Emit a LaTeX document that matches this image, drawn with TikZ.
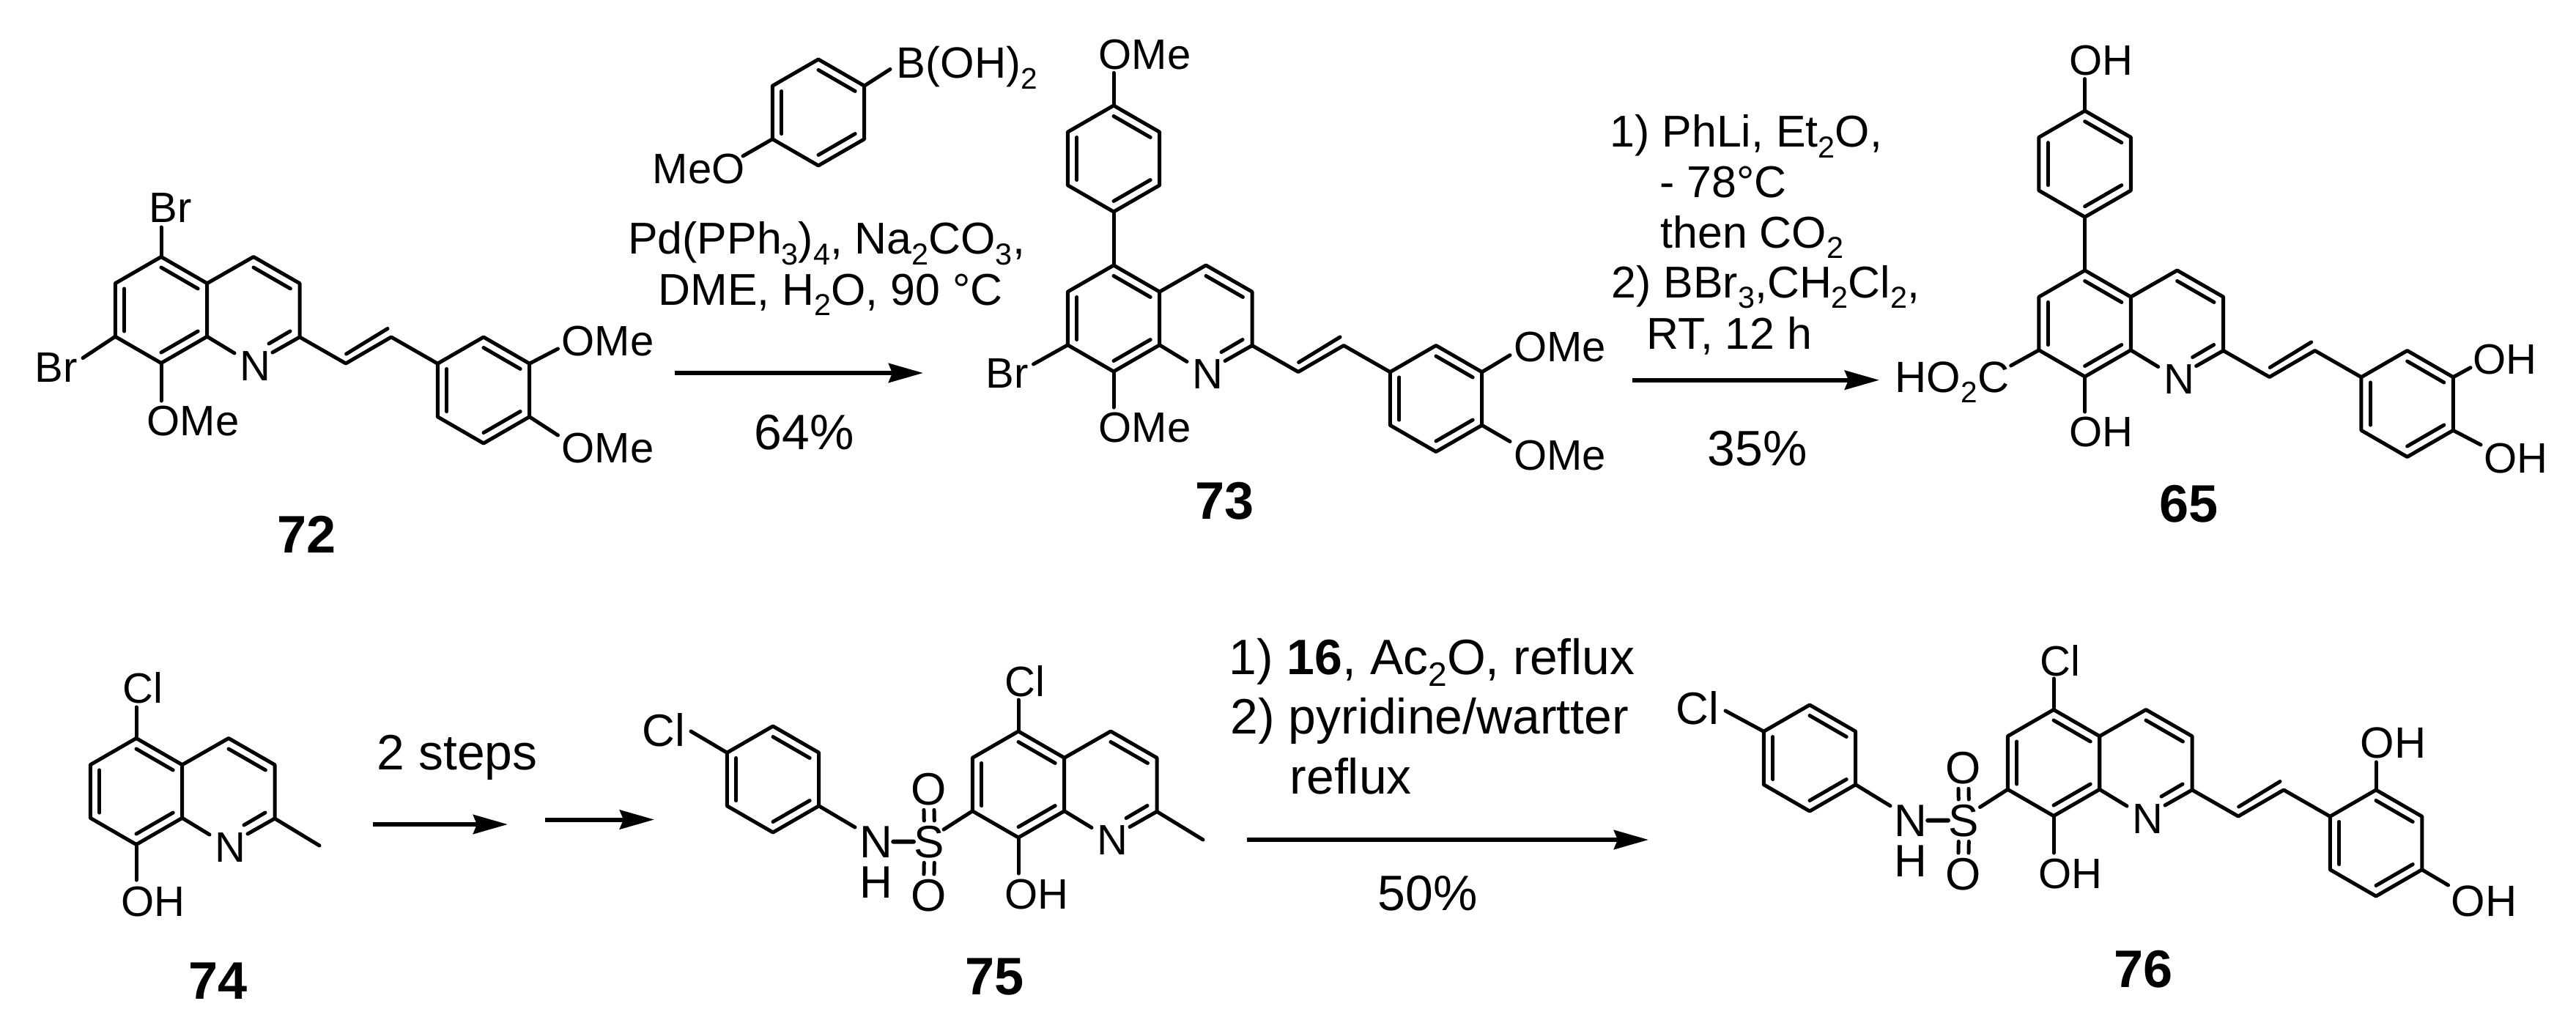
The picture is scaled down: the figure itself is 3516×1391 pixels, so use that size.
\documentclass[tikz,border=0pt]{standalone}
\usepackage{fontspec}
\setmainfont{Liberation Sans}
\usetikzlibrary{calc,arrows.meta}
\tikzset{
	bond/.style={line width=0.05cm, line cap=round, line join=round},
	atom/.style={anchor=base west, inner sep=0pt, font=\fontsize{16.5}{20}\selectfont},
	atombig/.style={font=\fontsize{17.64}{20}\selectfont},
	atommid/.style={font=\fontsize{17}{20}\selectfont},
	reagent/.style={anchor=base west, inner sep=0pt, font=\fontsize{17.3}{20}\selectfont},
	reagentbig/.style={anchor=base west, inner sep=0pt, font=\fontsize{19.3}{22}\selectfont},
	cpd/.style={anchor=base west, inner sep=0pt, font=\fontsize{20.5}{24}\selectfont\bfseries},
	rxn/.style={line width=0.06cm, -{Stealth[length=0.47cm, width=0.26cm, inset=0.05cm]}}
}
\newcommand{\lowidx}[1]{\raisebox{-.24em}{\scalebox{.68}{#1}}}
\newcommand{\dbl}[3]{\draw[bond] ($(#3)!.8!(#1)$) -- ($(#3)!.8!(#2)$);}
\newcommand{\hexring}[3]{
	\begin{scope}[shift={(#2,#3)}]
		\coordinate (#1) at (0,0);
		\coordinate (#1t) at (0,-72.5);
		\coordinate (#1ur) at (62.7,-36.3);
		\coordinate (#1lr) at (62.7,36.3);
		\coordinate (#1b) at (0,72.5);
		\coordinate (#1ll) at (-62.7,36.3);
		\coordinate (#1ul) at (-62.7,-36.3);
		\draw[bond] (#1t) -- (#1ur) -- (#1lr) -- (#1b) -- (#1ll) -- (#1ul) -- cycle;
		\dbl{#1t}{#1ur}{#1}
		\dbl{#1lr}{#1b}{#1}
		\dbl{#1ll}{#1ul}{#1}
	\end{scope}
}
\newcommand{\quinoline}[3]{
	\hexring{#1}{#2}{#3}
	\begin{scope}[shift={(#2,#3)}]
		\coordinate (#1py) at (126,0);
		\coordinate (#1c4) at (126,-72.5);
		\coordinate (#1c3) at (189,-36.3);
		\coordinate (#1c2) at (189,37);
		\coordinate (#1ne) at (100,59);
		\coordinate (#1nf) at (152,58);
		\coordinate (#1ni) at (176,29);
		\coordinate (#1nj) at (147,46);
		\node[atom] (#1N) at (107,96) {N};
		\draw[bond] (#1ur) -- (#1c4) -- (#1c3) -- (#1c2) -- (#1nf);
		\draw[bond] (#1lr) -- (#1ne);
		\draw[bond] (#1ni) -- (#1nj);
		\dbl{#1c4}{#1c3}{#1py}
	\end{scope}
}
\newcommand{\styryl}[3]{
	\begin{scope}[shift={(#2,#3)}]
		\coordinate (#1va) at (252,73);
		\coordinate (#1vb) at (314,37);
		\coordinate (#1vc) at (252.6,60);
		\coordinate (#1vd) at (309,25.5);
		\hexring{#1p}{440}{109.5}
		\draw[bond] (#1c2) -- (#1va) -- (#1vb) -- (#1pul);
		\draw[bond] (#1vc) -- (#1vd);
	\end{scope}
}
\newcommand{\subs}[6][]{
	\node[atom,#1] (#2) at (#5) {#6};
	\coordinate (#2e) at (#4);
	\draw[bond] (#3) -- (#2e);
}
\newcommand{\sulfonyl}[3]{
	\begin{scope}[shift={(#2,#3)}]
		\node[atom,atombig] (#1N) at (-74,0) {N};
		\node[atom,atombig] (#1H) at (-74,55) {H};
		\node[atom,atombig] (#1O) at (-4,-72) {O};
		\node[atom,atombig] (#1Q) at (-4,73) {O};
	\end{scope}
	\draw[bond, line width=0.06cm] (#1N.east) -- (#1S.west);
	\foreach \dx in {-7,7} {
		\draw[bond, shorten <=0.06cm, shorten >=0.06cm] ($(#1S.north)+(\dx,0)$) -- ($(#1O.south)+(\dx,0)$);
		\draw[bond, shorten <=0.06cm, shorten >=0.06cm] ($(#1S.south)+(\dx,0)$) -- ($(#1Q.north)+(\dx,0)$);
	}
}
\begin{document}
\begin{tikzpicture}[x=0.01cm, y=-0.01cm]
	\useasboundingbox (0,0) rectangle (3516,1391);

	\quinoline{A}{220}{423}
	\styryl{A}{220}{423}
	\subs{A5}{At}{220,310}{203,303}{Br}
	\subs{A7}{All}{113,488.6}{47,521}{Br}
	\subs{A8}{Ab}{220,547}{200,594}{OMe}
	\subs{A3}{Apur}{761.5,476}{766,485}{OMe}
	\subs{A4}{Aplr}{761.5,594}{766,631}{OMe}
	\node[cpd] (c72) at (378,754) {72};

	\hexring{R}{1117}{153.5}
	\subs{RO}{Rll}{1014,213}{890,251}{MeO}
	\subs[atommid]{RB}{Rur}{1215,94.5}{1223,107}{B(OH)\lowidx{2}}
	\node[reagent] (r1a) at (856.5,346.6) {Pd(PPh\lowidx{3})\lowidx{4}, Na\lowidx{2}CO\lowidx{3},};
	\node[reagent] (r1b) at (898,416) {DME, H\lowidx{2}O, 90 °C};
	\coordinate (a1s) at (920.6,509);
	\coordinate (a1e) at (1260,509);
	\draw[rxn] (a1s) -- (a1e);
	\node[reagentbig] (y1) at (1029,613) {64\%};

	\quinoline{B}{1520}{434.5}
	\styryl{B}{1520}{434.5}
	\hexring{T}{1520}{216.5}
	\draw[bond] (Tb) -- (Bt);
	\subs{T1}{Tt}{1520,99.4}{1499,94.5}{OMe}
	\subs{B7}{Bll}{1410.5,497}{1345,529}{Br}
	\subs{B8}{Bb}{1520,556}{1499,603.5}{OMe}
	\subs{B3}{Bpur}{2061,484.7}{2065.6,493.5}{OMe}
	\subs{B4}{Bplr}{2061,602.5}{2065.6,641}{OMe}
	\node[cpd] (c73) at (1631,708) {73};

	\node[reagent] (r2a) at (2197,201) {1) PhLi, Et\lowidx{2}O,};
	\node[reagent] (r2b) at (2265,269) {- 78°C};
	\node[reagent] (r2c) at (2266,338) {then CO\lowidx{2}};
	\node[reagent] (r2d) at (2199,406) {2) BBr\lowidx{3},CH\lowidx{2}Cl\lowidx{2},};
	\node[reagent] (r2e) at (2247,476) {RT, 12 h};
	\coordinate (a2s) at (2228,518.7);
	\coordinate (a2e) at (2565,518.7);
	\draw[rxn] (a2s) -- (a2e);
	\node[reagentbig] (y2) at (2330,635) {35\%};

	\quinoline{C}{2845.6}{441.5}
	\styryl{C}{2845.6}{441.5}
	\hexring{U}{2845.6}{223.7}
	\draw[bond] (Ub) -- (Ct);
	\subs{U1}{Ut}{2845.6,107.6}{2824,102.8}{OH}
	\subs[atommid]{C7}{Cll}{2744.6,499}{2586,535.6}{HO\lowidx{2}C}
	\subs{C8}{Cb}{2845.6,562}{2824,609}{OH}
	\subs{C3}{Cpur}{3372,501.7}{3375,510}{OH}
	\subs{C4}{Cplr}{3386,607}{3390,645.7}{OH}
	\node[cpd] (c65) at (2947,712) {65};

	\quinoline{D}{186}{1080}
	\coordinate (Dme) at (436,1154);
	\draw[bond] (Dc2) -- (Dme);
	\subs{D5}{Dt}{186,965}{167,959}{Cl}
	\subs{D8}{Db}{186,1201}{165,1250}{OH}
	\node[cpd] (c74) at (257,1363) {74};

	\node[reagentbig] (r3) at (514,1050) {2 steps};
	\coordinate (a3s) at (509,1125);
	\coordinate (a3e) at (693,1125);
	\draw[rxn] (a3s) -- (a3e);
	\coordinate (a4s) at (744,1118.5);
	\coordinate (a4e) at (893,1118.5);
	\draw[rxn] (a4s) -- (a4e);

	\quinoline{E}{1390}{1070.5}
	\coordinate (Eme) at (1642,1146);
	\draw[bond] (Ec2) -- (Eme);
	\subs{E5}{Et}{1390,955}{1371,950}{Cl}
	\subs{E8}{Eb}{1390,1192}{1371,1240}{OH}
	\subs[atombig]{ES}{Ell}{1288,1132}{1247,1170}{S}
	\sulfonyl{E}{1247}{1170}
	\hexring{F}{1055}{1063.5}
	\subs[atombig]{F1}{Ful}{943,998}{875.5,1018}{Cl}
	\coordinate (Fn) at (1167,1129);
	\draw[bond] (Flr) -- (Fn);
	\node[cpd] (c75) at (1317,1357) {75};

	\node[reagentbig] (r4a) at (1677,920.6) {1) \textbf{16}, Ac\lowidx{2}O, reflux};
	\node[reagentbig] (r4b) at (1679,1001.7) {2) pyridine/wartter};
	\node[reagentbig] (r4c) at (1760,1083.5) {reflux};
	\coordinate (a5s) at (1702,1146);
	\coordinate (a5e) at (2250,1146);
	\draw[rxn] (a5s) -- (a5e);
	\node[reagentbig] (y4) at (1880,1242) {50\%};

	\quinoline{G}{2803}{1041}
	\styryl{G}{2803}{1041}
	\subs{G5}{Gt}{2803,926}{2784,922}{Cl}
	\subs{G8}{Gb}{2803,1164}{2782,1212}{OH}
	\subs[atommid]{G2}{Gpt}{3243,1040}{3221,1034}{OH}
	\subs[atommid]{G4}{Gplr}{3341.5,1208}{3345,1250}{OH}
	\subs[atombig]{GS}{Gll}{2702.5,1101.5}{2659,1141}{S}
	\sulfonyl{G}{2659}{1141}
	\hexring{H}{2470}{1034.5}
	\subs[atombig]{H1}{Hul}{2355,970}{2287,988}{Cl}
	\coordinate (Hn) at (2580,1099.7);
	\draw[bond] (Hlr) -- (Hn);
	\node[cpd] (c76) at (2885,1347) {76};
\end{tikzpicture}
\end{document}
